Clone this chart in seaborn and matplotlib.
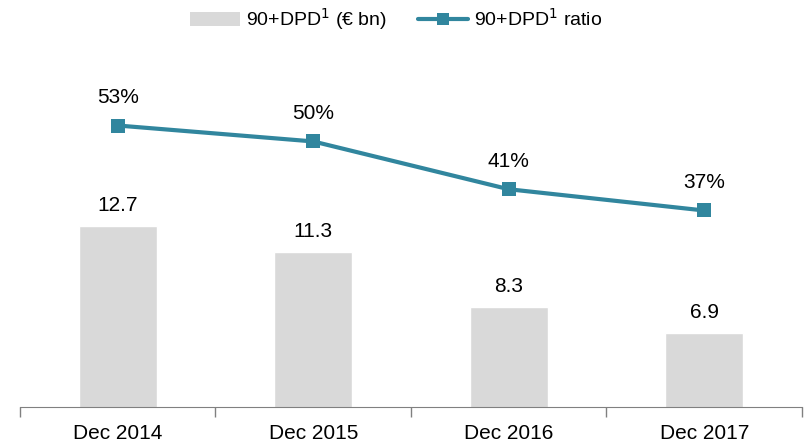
import numpy as np
import pandas as pd
import matplotlib
matplotlib.use("Agg")
import matplotlib.pyplot as plt
import seaborn as sns
from matplotlib.patches import Patch
from matplotlib.lines import Line2D

periods = ["Dec 2014", "Dec 2015", "Dec 2016", "Dec 2017"]
dpd_bn = [12.7, 11.3, 8.3, 6.9]
dpd_ratio = [53, 50, 41, 37]

BAR_COL = "#D9D9D9"
LINE_COL = "#31869E"

sns.set_style("white")
plt.rcParams["font.family"] = ["Liberation Sans", "DejaVu Sans"]
plt.rcParams["text.color"] = "black"
plt.rcParams["xtick.color"] = "#808080"
plt.rcParams["xtick.labelcolor"] = "black"

df = pd.DataFrame({"period": periods, "bn": dpd_bn, "ratio": dpd_ratio})

fig = plt.figure(figsize=(8.12, 4.44), dpi=100)
ax = fig.add_axes([20 / 812, 37 / 444, 782 / 812, 367 / 444])

sns.barplot(data=df, x="period", y="bn", color=BAR_COL, width=0.4,
            saturation=1, ax=ax)
ax.set_ylim(2.89, 22.78)
ax.set_xlim(-0.5, 3.5)
for i, v in enumerate(dpd_bn):
    ax.annotate(f"{v:.1f}", (i, v), xytext=(0, 8), textcoords="offset points",
                ha="center", va="bottom", fontsize=15)

ax2 = ax.twinx()
sns.lineplot(x=np.arange(len(periods)), y=dpd_ratio, ax=ax2, color=LINE_COL,
             linewidth=3, marker="s", markersize=10, markeredgewidth=0)
ax2.set_ylim(0, 69.1)
for i, v in enumerate(dpd_ratio):
    ax2.annotate(f"{v}%", (i, v), xytext=(0, 13), textcoords="offset points",
                 ha="center", va="bottom", fontsize=15)

for a in (ax, ax2):
    for s in ("top", "right", "left"):
        a.spines[s].set_visible(False)
    a.set_yticks([])
    a.set_ylabel("")
ax2.spines["bottom"].set_visible(False)
ax.spines["bottom"].set_color("#808080")
ax.set_xlabel("")
ax.set_xticks(range(len(periods)))
ax.set_xticklabels(periods, fontsize=15)
ax.tick_params(axis="x", which="major", length=0, pad=12)
ax.set_xticks(np.arange(-0.5, len(periods), 1.0), minor=True)
ax.tick_params(axis="x", which="minor", bottom=True, length=7, width=1,
               color="#808080", direction="out")

handles = [Patch(facecolor=BAR_COL, edgecolor="none"),
           Line2D([], [], color=LINE_COL, linewidth=3, marker="s",
                  markersize=9, markeredgewidth=0)]
labels = [r"90+DPD$^{1}$ (€ bn)", r"90+DPD$^{1}$ ratio"]
fig.legend(handles, labels, loc="upper center", bbox_to_anchor=(396 / 812, 1.025),
           ncol=2, frameon=False, fontsize=14, handlelength=2.6,
           handletextpad=0.3, columnspacing=1.6)

fig.savefig("out.png", dpi=100)
